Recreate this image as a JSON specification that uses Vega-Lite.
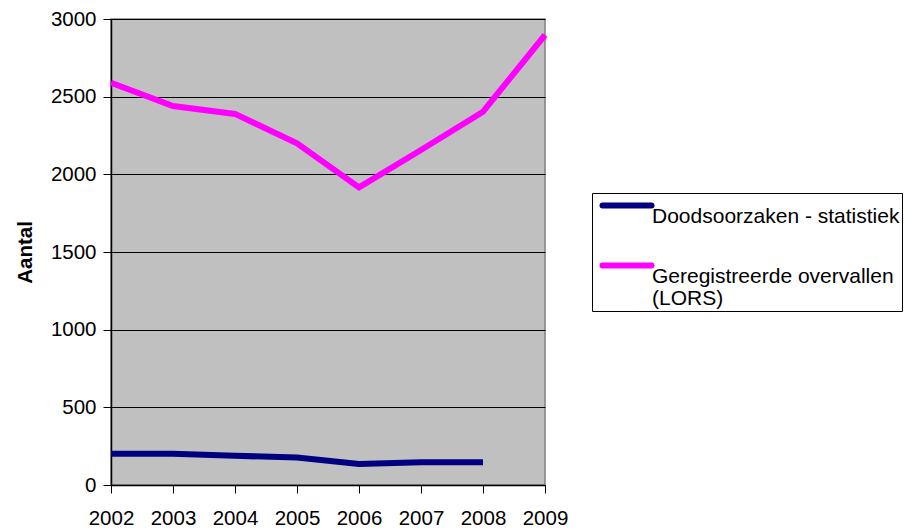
{
  "$schema": "https://vega.github.io/schema/vega-lite/v6.json",
  "width": 434,
  "height": 466,
  "autosize": {"type": "none"},
  "padding": {"left": 111, "top": 19, "right": 363, "bottom": 47},
  "background": "white",
  "config": {
    "view": {"fill": "#C0C0C0", "stroke": "#808080", "strokeWidth": 1.5},
    "font": "Liberation Sans"
  },
  "data": {
    "values": [
      {"jaar": "2002", "serie": "Doodsoorzaken - statistiek", "aantal": 201},
      {"jaar": "2003", "serie": "Doodsoorzaken - statistiek", "aantal": 201},
      {"jaar": "2004", "serie": "Doodsoorzaken - statistiek", "aantal": 188},
      {"jaar": "2005", "serie": "Doodsoorzaken - statistiek", "aantal": 177},
      {"jaar": "2006", "serie": "Doodsoorzaken - statistiek", "aantal": 136},
      {"jaar": "2007", "serie": "Doodsoorzaken - statistiek", "aantal": 147},
      {"jaar": "2008", "serie": "Doodsoorzaken - statistiek", "aantal": 147},
      {"jaar": "2002", "serie": "Geregistreerde overvallen (LORS)", "aantal": 2590},
      {"jaar": "2003", "serie": "Geregistreerde overvallen (LORS)", "aantal": 2440},
      {"jaar": "2004", "serie": "Geregistreerde overvallen (LORS)", "aantal": 2389},
      {"jaar": "2005", "serie": "Geregistreerde overvallen (LORS)", "aantal": 2200},
      {"jaar": "2006", "serie": "Geregistreerde overvallen (LORS)", "aantal": 1916},
      {"jaar": "2007", "serie": "Geregistreerde overvallen (LORS)", "aantal": 2157},
      {"jaar": "2008", "serie": "Geregistreerde overvallen (LORS)", "aantal": 2403},
      {"jaar": "2009", "serie": "Geregistreerde overvallen (LORS)", "aantal": 2897}
    ]
  },
  "mark": {"type": "line", "strokeWidth": 6, "strokeJoin": "miter", "strokeCap": "butt"},
  "encoding": {
    "x": {
      "field": "jaar",
      "type": "ordinal",
      "scale": {"type": "point", "padding": 0, "domain": ["2002","2003","2004","2005","2006","2007","2008","2009"]},
      "axis": {
        "title": null,
        "labelAngle": 0,
        "labelFontSize": 20.5,
        "labelColor": "black",
        "labelPadding": 15,
        "tickSize": 8,
        "tickColor": "black",
        "domainColor": "black",
        "domainWidth": 1.5,
        "grid": false
      }
    },
    "y": {
      "field": "aantal",
      "type": "quantitative",
      "scale": {"domain": [0, 3000], "nice": false},
      "axis": {
        "title": "Aantal",
        "titleFontSize": 20.5,
        "titleFontWeight": "bold",
        "titleColor": "black",
        "titlePadding": 15,
        "values": [0, 500, 1000, 1500, 2000, 2500, 3000],
        "format": "d",
        "labelFontSize": 20.5,
        "labelColor": "black",
        "labelPadding": 7,
        "tickSize": 8,
        "tickColor": "black",
        "domainColor": "black",
        "domainWidth": 1.5,
        "grid": true,
        "gridColor": "black",
        "gridWidth": 1.2,
        "gridOpacity": 1
      }
    },
    "color": {
      "field": "serie",
      "type": "nominal",
      "scale": {"domain": ["Doodsoorzaken - statistiek", "Geregistreerde overvallen (LORS)"], "range": ["#000080", "#FF00FF"]},
      "legend": {
        "title": null,
        "orient": "none",
        "legendX": 481,
        "legendY": 174,
        "strokeColor": "black",
        "fillColor": "white",
        "padding": 2,
        "symbolType": "M-0.37,0H8.73",
        "symbolSize": 116,
        "symbolStrokeWidth": 6,
        "labelFontSize": 21,
        "labelColor": "black",
        "labelBaseline": "top",
        "labelOffset": 37,
        "labelLimit": 400,
        "rowPadding": 26,
        "labelExpr": "datum.label == 'Geregistreerde overvallen (LORS)' ? ['Geregistreerde overvallen', '(LORS)'] : datum.label",
        "encode": {
          "symbols": {"update": {"strokeCap": {"value": "round"}}},
          "labels": {"update": {"lineHeight": {"value": 22}}}
        }
      }
    }
  }
}
